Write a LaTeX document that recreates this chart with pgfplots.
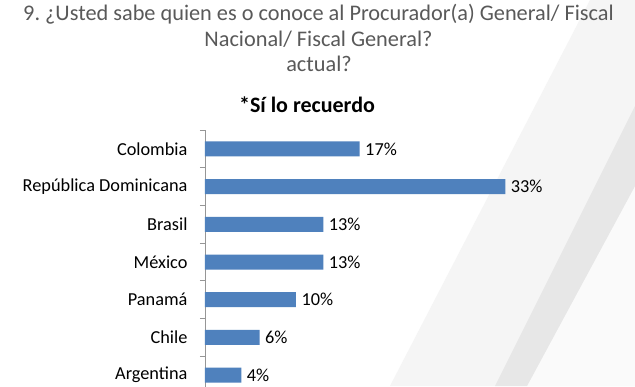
\documentclass[border=0pt]{standalone}
\usepackage{pgfplots}
\pgfplotsset{compat=1.18}
\usepackage{fontspec}
\setmainfont{Carlito}
\frenchspacing
\definecolor{barblue}{RGB}{79,129,189}
\definecolor{titlegray}{RGB}{89,89,89}
\definecolor{axisgray}{RGB}{150,150,150}
\definecolor{bandlight}{RGB}{245,245,245}
\definecolor{banddark}{RGB}{231,231,231}
\definecolor{bandwhite}{RGB}{250,250,250}
\begin{document}
\begin{tikzpicture}[x=1pt,y=1pt]
\useasboundingbox (0,0) rectangle (635,386);
\clip (0,0) rectangle (635,386);
\fill[white] (0,0) rectangle (635,386);
% background bands
\fill[bandlight] (390,0) -- (590,386) -- (635,386) -- (635,0) -- cycle;
\fill[bandwhite] (527,0) -- (635,200) -- (635,0) -- cycle;
\fill[banddark] (495,0) -- (635,280) -- (635,200) -- (527,0) -- cycle;
% titles
\node[anchor=base, text=titlegray, font=\fontsize{22.3}{26}\selectfont, inner sep=0pt] at (318.5,365) {9. ¿Usted sabe quien es o conoce al Procurador(a) General/ Fiscal};
\node[anchor=base, text=titlegray, font=\fontsize{22.3}{26}\selectfont, inner sep=0pt] at (318.5,339) {Nacional/ Fiscal General?};
\node[anchor=base, text=titlegray, font=\fontsize{22.3}{26}\selectfont, inner sep=0pt] at (319,314) {actual?};
\node[anchor=base, text=black, font=\bfseries\fontsize{22}{26}\selectfont, inner sep=0pt] at (307,273) {*Sí lo recuerdo};
\begin{axis}[
  at={(205pt,256pt)}, anchor=north west,
  scale only axis, width=427.7pt, height=264pt,
  xbar, bar width=15pt,
  xmin=0, xmax=47,
  ymin=-0.5, ymax=6.5, y dir=reverse,
  axis x line=none,
  axis y line=left,
  y axis line style={-, draw=axisgray, line width=0.8pt},
  ytick={0,...,6},
  yticklabels={Colombia, República Dominicana, Brasil, México, Panamá, Chile, Argentina},
  major tick length=0pt,
  minor ytick={-0.5,0.5,...,6.5},
  minor tick length=5pt,
  tick align=outside,
  ytick pos=left,
  minor tick style={draw=axisgray, line width=0.8pt},
  yticklabel style={font=\fontsize{18.3}{21}\selectfont, text=black, xshift=-14pt},
  nodes near coords={\pgfmathprintnumber[assume math mode=true]{\pgfplotspointmeta}\%},
  nodes near coords style={font=\fontsize{18.3}{21}\selectfont, text=black, anchor=west, xshift=2pt},
  point meta=x,
  clip=false,
]
\addplot[fill=barblue, draw=none] coordinates {(17,0) (33,1) (13,2) (13,3) (10,4) (6,5) (4,6)};
\end{axis}
\end{tikzpicture}
\end{document}
